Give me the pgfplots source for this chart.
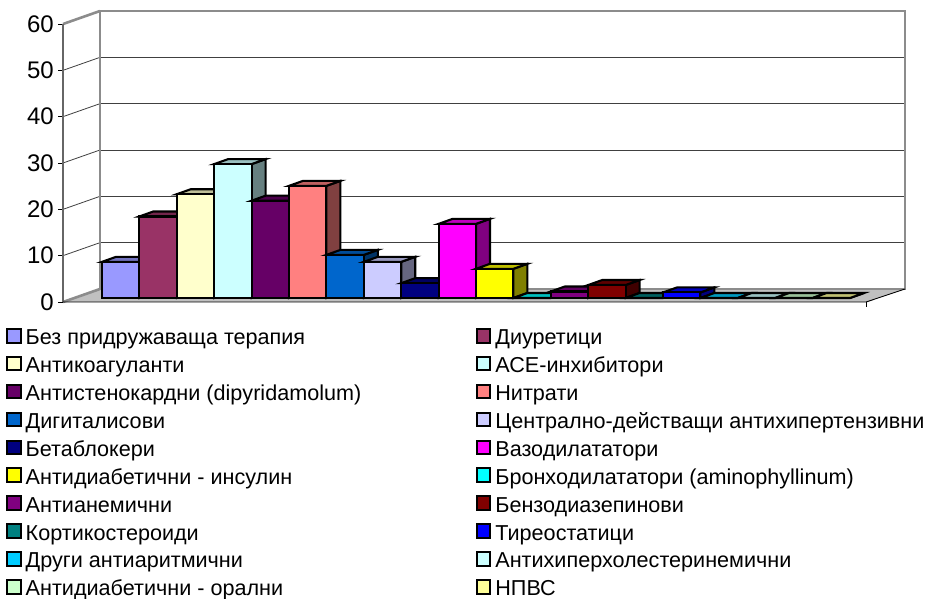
\documentclass[border=0pt]{standalone}
\usepackage{fontspec}
\setmainfont{Liberation Sans}
\usepackage{pgfplots}
\pgfplotsset{compat=1.18}

\definecolor{c1}{HTML}{9999FF}
\definecolor{c2}{HTML}{993366}
\definecolor{c3}{HTML}{FFFFCC}
\definecolor{c4}{HTML}{CCFFFF}
\definecolor{c5}{HTML}{660066}
\definecolor{c6}{HTML}{FF8080}
\definecolor{c7}{HTML}{0066CC}
\definecolor{c8}{HTML}{CCCCFF}
\definecolor{c9}{HTML}{000080}
\definecolor{c10}{HTML}{FF00FF}
\definecolor{c11}{HTML}{FFFF00}
\definecolor{c12}{HTML}{00FFFF}
\definecolor{c13}{HTML}{800080}
\definecolor{c14}{HTML}{800000}
\definecolor{c15}{HTML}{008080}
\definecolor{c16}{HTML}{0000FF}
\definecolor{c17}{HTML}{00CCFF}
\definecolor{c18}{HTML}{CCFFFF}
\definecolor{c19}{HTML}{CCFFCC}
\definecolor{c20}{HTML}{FFFF99}
\definecolor{wallgray}{HTML}{8C8C8C}
\definecolor{floorgray}{HTML}{C0C0C0}

% front face is a real bar, top and side are the oblique faces of the 3D look
\pgfplotsset{
  barline/.style={draw=black, line width=2.1pt, line join=miter, yshift=4pt},
  wall/.style={forget plot},
}
\newcommand{\threedbar}[4]{%
  \pgfmathsetmacro{\xa}{#1+0.5}%
  \pgfmathsetmacro{\xb}{#1-0.5}%
  \pgfmathsetmacro{\xc}{#1+0.5+0.374}%
  \pgfmathsetmacro{\xd}{#1-0.5+0.374}%
  \pgfmathsetmacro{\yt}{#2+1.08}%
  \addplot[barline, forget plot, fill=#3!50!black]
    coordinates {(\xa,0) (\xc,1.08) (\xc,\yt) (\xa,#2)} --cycle;
  \addplot[barline, forget plot, fill=#3!75!black]
    coordinates {(\xb,#2) (\xd,\yt) (\xc,\yt) (\xa,#2)} --cycle;
  \addplot[barline, ybar, bar width=37.4pt, bar shift=0pt, fill=#3,
    legend image code/.code={
      \draw[draw=black, line width=2pt, fill=#3] (0pt,-6.8pt) rectangle (13.6pt,6.8pt);
      \path (17.5pt,0pt);
    }] coordinates {(#1,#2)};
  \addlegendentry{#4}%
}

\begin{document}
\begin{tikzpicture}
  \useasboundingbox (0,0) rectangle (929pt,599pt);
  \begin{axis}[
      at={(63pt,297pt)}, anchor=south west,
      scale only axis, width=842pt, height=291pt,
      xmin=-0.543, xmax=21.97, ymin=0, ymax=62.81,
      clip=false,
      axis x line=none,
      axis y line=left,
      y axis line style={draw=none, -},
      xtick=\empty,
      ytick={0,10,20,30,40,50,60},
      tick align=outside,
      major tick length=5pt,
      tick style={draw=black, line width=0.8pt},
      yticklabel style={
        font=\fontsize{24}{26}\selectfont,
        /pgf/number format/assume math mode=true,
        inner sep=0pt, xshift=-4pt,
      },
      legend columns=2,
      legend cell align=left,
      legend style={
        at={(-0.0677,-0.0885)}, anchor=north west,
        draw=none, fill=none,
        font=\fontsize{21.6}{24}\selectfont,
        inner sep=0pt,
        nodes={inner sep=0pt, text height=15pt, text depth=5pt},
        /tikz/row sep=6.1pt,
        /tikz/every even column/.append style={column sep=114.5pt},
      },
    ]

    % walls and floor
    \addplot[wall, fill=white, draw=none]
      coordinates {(-0.543,0) (0.4465,2.81) (0.4465,62.81) (-0.543,60)} --cycle;
    \addplot[wall, fill=floorgray, draw=none]
      coordinates {(-0.543,0) (0.4465,2.81) (21.97,2.81) (20.93,0)} --cycle;

    % gridlines, back wall
    \addplot[wall, draw=black!75, line width=0.8pt] coordinates {(0.4465,12.81) (21.97,12.81)};
    \addplot[wall, draw=black!75, line width=0.8pt] coordinates {(0.4465,22.81) (21.97,22.81)};
    \addplot[wall, draw=black!75, line width=0.8pt] coordinates {(0.4465,32.81) (21.97,32.81)};
    \addplot[wall, draw=black!75, line width=0.8pt] coordinates {(0.4465,42.81) (21.97,42.81)};
    \addplot[wall, draw=black!75, line width=0.8pt] coordinates {(0.4465,52.81) (21.97,52.81)};
    % gridlines, side wall
    \addplot[wall, draw=black!75, line width=0.8pt] coordinates {(-0.543,10) (0.4465,12.81)};
    \addplot[wall, draw=black!75, line width=0.8pt] coordinates {(-0.543,20) (0.4465,22.81)};
    \addplot[wall, draw=black!75, line width=0.8pt] coordinates {(-0.543,30) (0.4465,32.81)};
    \addplot[wall, draw=black!75, line width=0.8pt] coordinates {(-0.543,40) (0.4465,42.81)};
    \addplot[wall, draw=black!75, line width=0.8pt] coordinates {(-0.543,50) (0.4465,52.81)};

    % wall frame
    \addplot[wall, draw=wallgray, line width=2.6pt]
      coordinates {(0.4465,2.81) (0.4465,62.81) (21.97,62.81) (21.97,2.81) (0.4465,2.81)};
    \addplot[wall, draw=wallgray, line width=2.6pt]
      coordinates {(-0.543,60) (0.4465,62.81)};
    \addplot[wall, draw=wallgray, line width=2.6pt]
      coordinates {(-0.543,0) (0.4465,2.81)};
    \addplot[wall, draw=black!60, line width=1.6pt]
      coordinates {(-0.543,0) (-0.543,60)};
    % front edges of the floor
    \addplot[wall, draw=black, line width=0.9pt]
      coordinates {(-0.543,0) (20.93,0) (21.97,2.81)};
    \addplot[wall, draw=black, line width=0.9pt]
      coordinates {(20.93,0) (20.93,-1.1)};

    \threedbar{1}{7.8}{c1}{Без придружаваща терапия}
    \threedbar{2}{17.6}{c2}{Диуретици}
    \threedbar{3}{22.4}{c3}{Антикоагуланти}
    \threedbar{4}{28.9}{c4}{АСЕ-инхибитори}
    \threedbar{5}{21}{c5}{Антистенокардни (dipyridamolum)}
    \threedbar{6}{24.2}{c6}{Нитрати}
    \threedbar{7}{9.3}{c7}{Дигиталисови}
    \threedbar{8}{7.8}{c8}{Централно-действащи антихипертензивни}
    \threedbar{9}{3.2}{c9}{Бетаблокери}
    \threedbar{10}{16}{c10}{Вазодилататори}
    \threedbar{11}{6.3}{c11}{Антидиабетични - инсулин}
    \threedbar{12}{0}{c12}{Бронходилататори (aminophyllinum)}
    \threedbar{13}{1.4}{c13}{Антианемични}
    \threedbar{14}{2.8}{c14}{Бензодиазепинови}
    \threedbar{15}{0}{c15}{Кортикостероиди}
    \threedbar{16}{1.2}{c16}{Тиреостатици}
    \threedbar{17}{0}{c17}{Други антиаритмични}
    \threedbar{18}{0}{c18}{Антихиперхолестеринемични}
    \threedbar{19}{0}{c19}{Антидиабетични - орални}
    \threedbar{20}{0}{c20}{НПВС}
  \end{axis}
\end{tikzpicture}
\end{document}
